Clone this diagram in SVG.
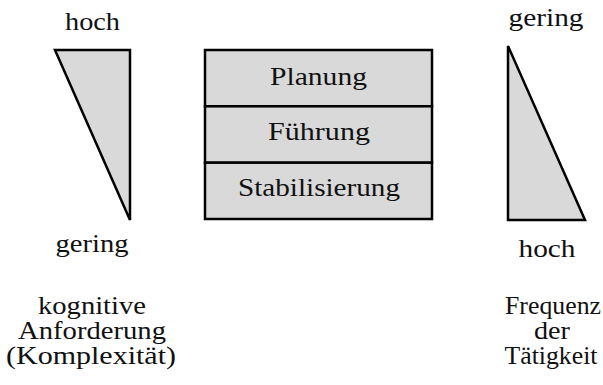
<svg xmlns="http://www.w3.org/2000/svg" width="603" height="385" viewBox="0 0 603 385">
  <style>
    .shape { fill: #d9d9d9; stroke: #000; stroke-width: 2.5; stroke-linejoin: miter; }
    .lbl { font-family: "Liberation Serif", "DejaVu Serif", serif; font-size: 26px; fill: #111; text-anchor: middle; }
  </style>
  <rect width="603" height="385" fill="#fff"/>

  <!-- cognitive demand scale -->
  <g id="demand">
    <polygon class="shape" points="55,50 130,50 130,220"/>
    <text class="lbl" x="92.5" y="30" textLength="55" lengthAdjust="spacingAndGlyphs">hoch</text>
    <text class="lbl" x="92" y="252" textLength="73" lengthAdjust="spacingAndGlyphs">gering</text>
    <text class="lbl" x="92" y="314" textLength="108" lengthAdjust="spacingAndGlyphs">kognitive</text>
    <text class="lbl" x="92" y="339" textLength="148" lengthAdjust="spacingAndGlyphs">Anforderung</text>
    <text class="lbl" x="91" y="364" textLength="170" lengthAdjust="spacingAndGlyphs">(Komplexität)</text>
  </g>

  <!-- task layers -->
  <g id="planung">
    <rect class="shape" x="205" y="50" width="227" height="56.3"/>
    <text class="lbl" x="318.5" y="85" textLength="97" lengthAdjust="spacingAndGlyphs">Planung</text>
  </g>
  <g id="fuehrung">
    <rect class="shape" x="205" y="106.3" width="227" height="56.4"/>
    <text class="lbl" x="319" y="140" textLength="102" lengthAdjust="spacingAndGlyphs">Führung</text>
  </g>
  <g id="stabilisierung">
    <rect class="shape" x="205" y="162.7" width="227" height="56.3"/>
    <text class="lbl" x="319" y="196" textLength="162" lengthAdjust="spacingAndGlyphs">Stabilisierung</text>
  </g>

  <!-- activity frequency scale -->
  <g id="frequency">
    <polygon class="shape" points="508,46 508,220 585,220"/>
    <text class="lbl" x="546" y="26" textLength="75" lengthAdjust="spacingAndGlyphs">gering</text>
    <text class="lbl" x="547" y="257" textLength="57" lengthAdjust="spacingAndGlyphs">hoch</text>
    <text class="lbl" x="553" y="314" textLength="96" lengthAdjust="spacingAndGlyphs">Frequenz</text>
    <text class="lbl" x="552" y="339" textLength="36" lengthAdjust="spacingAndGlyphs">der</text>
    <text class="lbl" x="551" y="364" textLength="93" lengthAdjust="spacingAndGlyphs">Tätigkeit</text>
  </g>
</svg>
